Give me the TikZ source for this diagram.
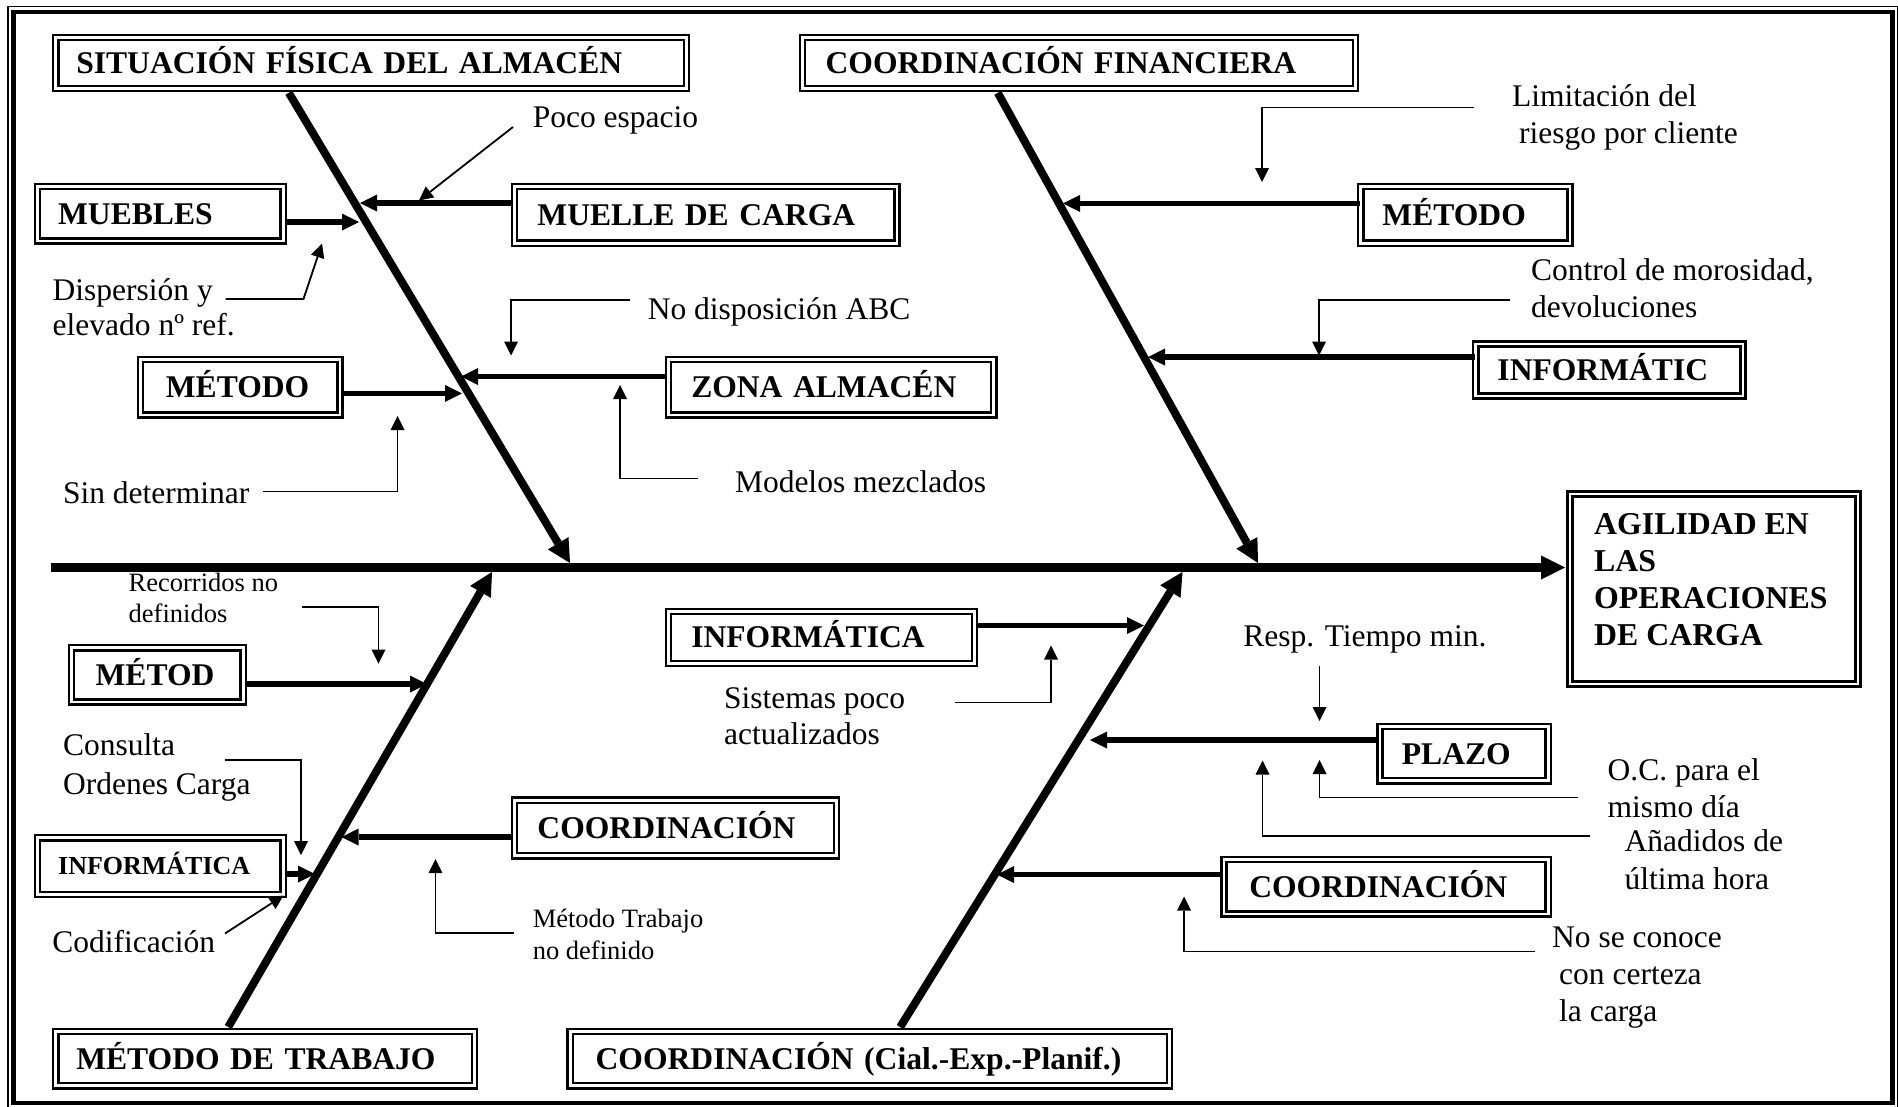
\documentclass[tikz,border=0pt]{standalone}
\usepackage{fontspec}
\setmainfont{Liberation Serif}
\usetikzlibrary{arrows.meta}
\tikzset{
  catbox/.style={draw, line width=2.5pt, double=white, double distance=2.6pt,
    anchor=north west, inner ysep=0pt, align=left,
    font=\bfseries\fontsize{31.6}{37}\selectfont,
    text height=21pt, text depth=0pt},
  smallcat/.style={catbox, font=\bfseries\fontsize{26}{31}\selectfont, text height=17pt},
  note/.style={anchor=north west, inner sep=0pt, align=left,
    font=\fontsize{31.5}{#1}\selectfont, yshift=0.7*#1pt},
  note/.default=37,
  smallnote/.style={anchor=north west, inner sep=0pt, align=left,
    font=\fontsize{26.5}{#1}\selectfont, yshift=0.7*#1pt},
  smallnote/.default=31.5,
  headtxt/.style={anchor=north west, inner sep=0pt, align=left,
    font=\bfseries\fontsize{31.8}{37}\selectfont, yshift=25.9pt},
  spine/.style={line width=8.5pt, -{Triangle[length=24pt,width=24pt,line width=0pt]}},
  bone/.style={line width=8pt, -{Triangle[length=23pt,width=24pt,line width=0pt]}},
  branch/.style={line width=5.5pt, -{Triangle[length=17pt,width=17pt,line width=0pt]}},
  callout/.style={line width=1.8pt, -{Triangle[length=14pt,width=14pt,line width=0pt]}},
}
\begin{document}
\begin{tikzpicture}[x=1pt,y=-1pt]
\useasboundingbox (0,0) rectangle (1898,1106);

% outer double frame
\draw[line width=1.5pt] (8,6.5) rectangle (1897.5,1108);
\draw[line width=4.5pt] (13.5,12) rectangle (1892.5,1103);

% category boxes
\node[catbox, minimum width=630.6pt, minimum height=50.7pt, inner xsep=20.5pt, text width=589.6pt] (sit) at (54.5,36.4) {\mbox{SITUACIÓN FÍSICA DEL ALMACÉN}};
\node[catbox, minimum width=552.9pt, minimum height=50.7pt, inner xsep=23pt, text width=506.9pt] (cfin) at (801.4,36.4) {\mbox{COORDINACIÓN FINANCIERA}};
\node[catbox, minimum width=245.6pt, minimum height=54.3pt, inner xsep=20.5pt, text width=204.6pt] (muebles) at (36.4,185.3) {\mbox{MUEBLES}};
\node[catbox, minimum width=382.4pt, minimum height=56.7pt, inner xsep=22.9pt, text width=336.6pt] (muelle) at (513.3,185.3) {\mbox{MUELLE DE CARGA}};
\node[catbox, minimum width=199.6pt, minimum height=55.5pt, inner xsep=25.3pt, text width=149pt] (metA) at (139.3,358.4) {\mbox{MÉTODO}};
\node[catbox, minimum width=325.4pt, minimum height=55.5pt, inner xsep=22.9pt, text width=279.6pt] (zona) at (667.1,358.4) {\mbox{ZONA ALMACÉN}};
\node[catbox, minimum width=209.2pt, minimum height=56.7pt, inner xsep=21.7pt, text width=165.8pt] (metB) at (1359.5,185.3) {\mbox{MÉTODO}};
\node[catbox, minimum width=267.3pt, minimum height=52pt, inner xsep=21.7pt, text width=223.9pt] (infc) at (1474.5,342.6) {\mbox{INFORMÁTIC}};
\node[catbox, minimum width=287.9pt, minimum height=190pt] (agil) at (1568.9,492.7) {};
\node[headtxt] (agiltxt) at (1594,534) {\strut AGILIDAD EN\\LAS\\OPERACIONES\\DE CARGA};
\node[catbox, minimum width=171.7pt, minimum height=54.3pt, inner xsep=24.1pt, text width=123.5pt] (metC) at (70.3,646.5) {\mbox{MÉTOD}};
\node[smallcat, minimum width=245.6pt, minimum height=56.8pt, inner xsep=20.5pt, text width=204.6pt] (infs) at (36.4,836.5) {\mbox{INFORMÁTICA}};
\node[catbox, minimum width=321.9pt, minimum height=55.5pt, inner xsep=22.9pt, text width=276.1pt] (coom) at (513.3,799) {\mbox{COORDINACIÓN}};
\node[catbox, minimum width=418.7pt, minimum height=54.3pt, inner xsep=20.5pt, text width=377.7pt] (mdt) at (54.5,1030.2) {\mbox{MÉTODO DE TRABAJO}};
\node[catbox, minimum width=306.1pt, minimum height=51.9pt, inner xsep=22.9pt, text width=260.3pt] (infm) at (667.1,610.2) {\mbox{INFORMÁTICA}};
\node[catbox, minimum width=599.1pt, minimum height=54.3pt, inner xsep=25.4pt, text width=548.3pt] (cial) at (569,1030.2) {\mbox{COORDINACIÓN (Cial.-Exp.-Planif.)}};
\node[catbox, minimum width=168.2pt, minimum height=54.3pt, inner xsep=21.8pt, text width=124.6pt] (plazo) at (1378.8,725.2) {\mbox{PLAZO}};
\node[catbox, minimum width=324.3pt, minimum height=54.4pt, inner xsep=25.3pt, text width=273.7pt] (coolr) at (1222.7,858.3) {\mbox{COORDINACIÓN}};

% spine
\coordinate (spL) at (51,567.5);
\draw[spine, shorten >=3.7pt] (spL) -- (spL -| agil.west);

% main bones
\coordinate (b1s) at (286.9,90.8);  \coordinate (b1e) at (570,563);
\coordinate (b2s) at (996,90.8);    \coordinate (b2e) at (1258,563);
\coordinate (b3s) at (226.4,1026.5); \coordinate (b3e) at (492,572);
\coordinate (b4s) at (898.2,1026.5); \coordinate (b4e) at (1182.5,572);
\draw[bone, shorten <=3.7pt] (sit.south -| b1s) -- (b1e);
\draw[bone, shorten <=3.7pt] (cfin.south -| b2s) -- (b2e);
\draw[bone, shorten <=3.7pt] (mdt.north -| b3s) -- (b3e);
\draw[bone, shorten <=3.7pt] (cial.north -| b4s) -- (b4e);

% branch tips on the bones
\coordinate (m1) at (359,222);
\coordinate (m2) at (360,203);
\coordinate (m3) at (462,393.4);
\coordinate (m4) at (461,376.5);
\coordinate (m5) at (1063,203.4);
\coordinate (m6) at (1148,357.1);
\coordinate (m7) at (427,684);
\coordinate (m8) at (315,874);
\coordinate (m9) at (341.5,837);
\coordinate (m10) at (1144,625.5);
\coordinate (m11) at (1090,740);
\coordinate (m12) at (997,874.5);
\draw[branch] (muebles.east |- m1) -- (m1);
\draw[branch] (muelle.west |- m2) -- (m2);
\draw[branch] (metA.east |- m3) -- (m3);
\draw[branch] (zona.west |- m4) -- (m4);
\draw[branch] (metB.west |- m5) -- (m5);
\draw[branch] (infc.west |- m6) -- (m6);
\draw[branch] (metC.east |- m7) -- (m7);
\draw[branch] (infs.east |- m8) -- (m8);
\draw[branch] (coom.west |- m9) -- (m9);
\draw[branch] (infm.east |- m10) -- (m10);
\draw[branch] (plazo.west |- m11) -- (m11);
\draw[branch] (coolr.west |- m12) -- (m12);

% annotations
\node[note] (poco) at (532.6,127) {\strut Poco espacio};
\node[note=35] (disp) at (52.5,300) {\strut Dispersión y\\elevado nº ref.};
\node[note] (nodisp) at (647.6,319.6) {\strut No disposición ABC};
\node[note] (sin) at (62.9,503) {\strut Sin determinar};
\node[note] (modelos) at (734.8,492.5) {\strut Modelos mezclados};
\node[note] (limit) at (1512,106.5) {\strut Limitación del\\\hspace*{7pt}riesgo por cliente};
\node[note] (control) at (1531,280) {\strut Control de morosidad,\\devoluciones};
\node[smallnote] (recorr) at (128.5,591) {\strut Recorridos no\\definidos};
\node[note=38.5] (consulta) at (62.9,755.5) {\strut Consulta\\Ordenes Carga};
\node[note] (codif) at (52.1,952.5) {\strut Codificación};
\node[smallnote] (mettrab) at (532.6,927.5) {\strut Método Trabajo\\no definido};
\node[note=35.5] (sistemas) at (723.9,708.3) {\strut Sistemas poco\\actualizados};
\node[note] (resp) at (1243.2,646.5) {\strut Resp. Tiempo min.};
\node[note] (oc) at (1607.5,780) {\strut O.C. para el\\mismo día};
\node[note=38] (anad) at (1624.5,851) {\strut Añadidos de\\última hora};
\node[note] (nose) at (1552,947.5) {\strut No se conoce\\\hspace*{7pt}con certeza\\\hspace*{7pt}la carga};

% callout leaders
\coordinate (pocoA) at (513,127);    \coordinate (pocoT) at (419,200.5);
\coordinate (dispA) at (225.5,299);  \coordinate (dispT) at (322,243.5);
\coordinate (nodA) at (629.5,300);   \coordinate (nodT) at (511,355.5);
\coordinate (modA) at (698,478.5);   \coordinate (modT) at (620,385);
\coordinate (sinA) at (263,491.5);   \coordinate (sinT) at (397.5,416);
\coordinate (limA) at (1474,107.5);  \coordinate (limT) at (1262,182);
\coordinate (conA) at (1510,300);    \coordinate (conT) at (1319,355.5);
\coordinate (recA) at (301.5,607);   \coordinate (recT) at (378.5,663.5);
\coordinate (consA) at (225,760);    \coordinate (consT) at (301,855);
\coordinate (codA) at (225,933.5);   \coordinate (codT) at (283.5,895.5);
\coordinate (mtA) at (513.5,933);    \coordinate (mtT) at (435.5,859);
\coordinate (sisA) at (954.5,702.5); \coordinate (sisT) at (1051,645.5);
\coordinate (respA) at (1319.5,666); \coordinate (respT) at (1319.5,721);
\coordinate (ocA) at (1578,797.5);   \coordinate (ocT) at (1319.5,760);
\coordinate (anA) at (1590,836);     \coordinate (anT) at (1262.5,760.5);
\coordinate (noA) at (1535,951.5);   \coordinate (noT) at (1184,896.5);

\draw[callout] (pocoA) -- (pocoT);
\draw[callout] (dispA) -- ++(78,0) -- (dispT);
\draw[callout] (nodA) -| (nodT);
\draw[callout] (modA) -| (modT);
\draw[callout] (sinA) -| (sinT);
\draw[callout] (limA) -| (limT);
\draw[callout] (conA) -| (conT);
\draw[callout] (recA) -| (recT);
\draw[callout] (consA) -| (consT);
\draw[callout] (codA) -- (codT);
\draw[callout] (mtA) -| (mtT);
\draw[callout] (sisA) -| (sisT);
\draw[callout] (respA) -- (respT);
\draw[callout] (ocA) -| (ocT);
\draw[callout] (anA) -| (anT);
\draw[callout] (noA) -| (noT);
\end{tikzpicture}
\end{document}
